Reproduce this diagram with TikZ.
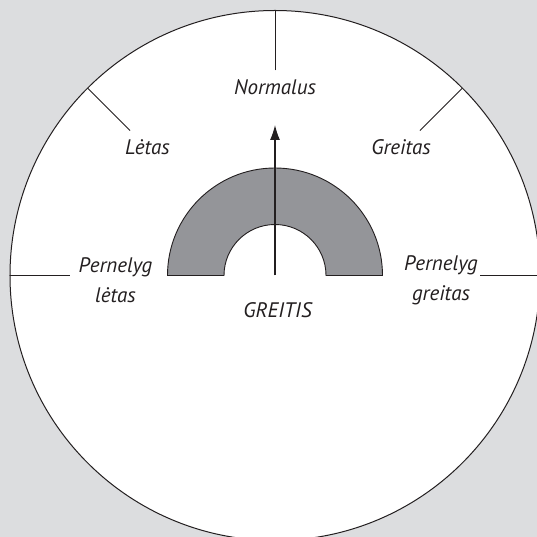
\documentclass[tikz,border=0pt]{standalone}
\usepackage{fontspec}
\setmainfont{PT Sans}
\usetikzlibrary{arrows.meta}
\definecolor{bggray}{RGB}{220,221,223}
\definecolor{bandgray}{RGB}{148,149,153}
\definecolor{inkgray}{RGB}{35,31,32}

\begin{document}
\begin{tikzpicture}[x=1pt,y=1pt,>=Latex,
  lbl/.style={font=\fontsize{21}{30}\selectfont\itshape,text=inkgray,inner sep=0pt,align=center}]
\useasboundingbox (-275,-261.5) rectangle (262,275.5);
\clip (-275,-261.5) rectangle (262,275.5);
\fill[bggray] (-275,-261.5) rectangle (262,275.5);
\draw[inkgray,fill=white,line width=1pt] (0,0) circle (265);
% scale ticks
\foreach \a in {0,45,90,135,180}
  \draw[inkgray,line width=1pt] (\a:205) -- (\a:265);
% speed band
\filldraw[fill=bandgray,draw=inkgray,line width=0.9pt] (-107.5,0) arc (180:0:107.5) -- (51,0) arc (0:180:51) -- cycle;
\coordinate (base) at (0,0);
\coordinate (tip) at (0,150.5);
\draw[->,inkgray,line width=1.2pt,>={Latex[length=15pt,width=10pt]}] (base) -- (tip);
% labels
\node[lbl] (normal) at (0,188.5) {Normalus};
\node[lbl] (slow) at (-127.5,128.5) {Lėtas};
\node[lbl] (fast) at (126,128.5) {Greitas};
\node[lbl] (tooslow) at (-159.5,-4.5) {Pernelyg\\lėtas};
\node[lbl] (toofast) at (166,-4.5) {Pernelyg\\greitas};
\node[lbl] (speed) at (2.5,-34.5) {GREITIS};
\end{tikzpicture}
\end{document}
